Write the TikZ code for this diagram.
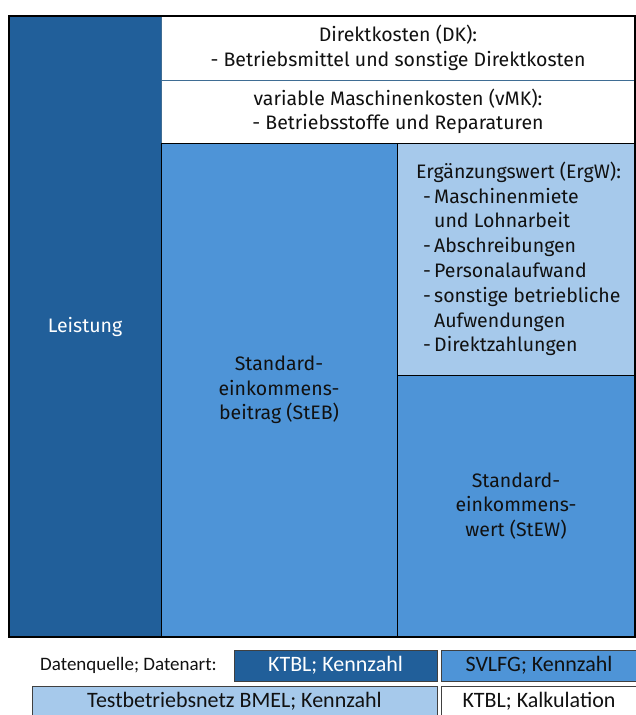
\documentclass[tikz,border=0pt]{standalone}
\usepackage{fontspec}
\setmainfont{Fira Sans}
\newfontfamily\legfont{Carlito}
\definecolor{dkblue}{HTML}{215F9A}
\definecolor{mdblue}{HTML}{4E94D7}
\definecolor{ltblue}{HTML}{A6C9EB}
\definecolor{sepline}{HTML}{3F6D94}
\definecolor{txt}{HTML}{111111}
\begin{document}
\begin{tikzpicture}[x=1pt,y=-1pt,
  box/.style={draw=black, line width=1pt, inner sep=0pt, outer sep=0pt, anchor=north west, align=center,
    font=\fontsize{19.5}{24.5}\selectfont, text=txt},
  leg/.style={draw=black!75, line width=1pt, inner sep=0pt, outer sep=0pt, anchor=north west, align=center,
    font=\legfont\fontsize{22}{24}\selectfont, text=txt}]
\useasboundingbox (0,0) rectangle (635,715);
% main blocks
\node[box, fill=dkblue, text=white, minimum width=152, minimum height=621] (lei) at (9,16) {Leistung};
\node[box, fill=white, draw=sepline, minimum width=474, minimum height=64] (dk) at (161,16)
  {Direktkosten (DK):\\- Betriebsmittel und sonstige Direktkosten};
\node[box, fill=white, draw=sepline, minimum width=474, minimum height=63] (vmk) at (161,80)
  {variable Maschinenkosten (vMK):\\- Betriebsstoffe und Reparaturen};
\node[box, fill=mdblue, minimum width=236, minimum height=494] (steb) at (161,143)
  {Standard-\\einkommens-\\beitrag (StEB)};
\node[box, fill=ltblue, minimum width=238, minimum height=232] (ergw) at (397,143) {};
\node[anchor=west, align=left, inner sep=0pt, font=\fontsize{19.5}{24.8}\selectfont, text=txt] (ergwtext) at ([xshift=19pt]ergw.west)
  {Ergänzungswert (ErgW):\\
   \hspace*{7pt}\makebox[11pt][l]{-}Maschinenmiete\\
   \hspace*{18pt}und Lohnarbeit\\
   \hspace*{7pt}\makebox[11pt][l]{-}Abschreibungen\\
   \hspace*{7pt}\makebox[11pt][l]{-}Personalaufwand\\
   \hspace*{7pt}\makebox[11pt][l]{-}sonstige betriebliche\\
   \hspace*{18pt}Aufwendungen\\
   \hspace*{7pt}\makebox[11pt][l]{-}Direktzahlungen};
\node[box, fill=mdblue, minimum width=238, minimum height=262] (stew) at (397,375)
  {Standard-\\einkommens-\\wert (StEW)};
\draw[black, line width=1.2pt] (lei.north west) rectangle (stew.south east);
% legend
\node[anchor=east, inner sep=0pt, font=\legfont\fontsize{19}{22}\selectfont, text=txt] (dq) at (217,665) {Datenquelle; Datenart:};
\node[leg, fill=dkblue, text=white, minimum width=203, minimum height=31] (l1) at (234,650) {KTBL; Kennzahl};
\node[leg, fill=mdblue, minimum width=196, minimum height=31] (l2) at (441,650) {SVLFG; Kennzahl};
\node[leg, fill=ltblue, minimum width=405, minimum height=31] (l3) at (32,686) {Testbetriebsnetz BMEL; Kennzahl};
\node[leg, fill=white, minimum width=196, minimum height=31] (l4) at (441,686) {KTBL; Kalkulation};
\end{tikzpicture}
\end{document}
